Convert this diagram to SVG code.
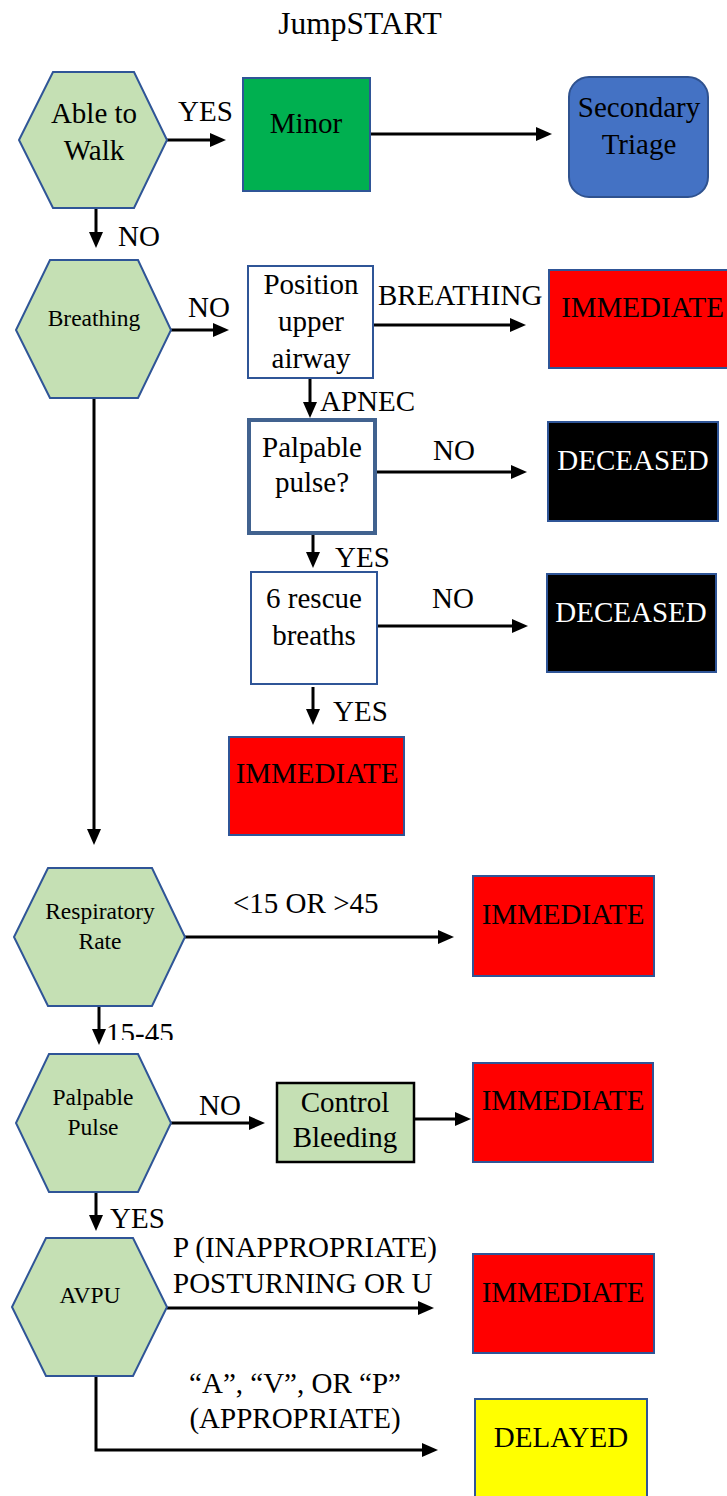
<svg xmlns="http://www.w3.org/2000/svg" width="727" height="1496" viewBox="0 0 727 1496" font-family="'Liberation Serif', 'Times New Roman', serif">
<style>
text{font-family:'Liberation Serif','Times New Roman',serif;fill:#000;}
.t{font-family:'Liberation Serif','Times New Roman',serif;font-size:29px;}
.s{font-family:'Liberation Serif','Times New Roman',serif;font-size:23.5px;}
.c{text-anchor:middle;}
.w{fill:#fff;}
.hex{fill:#C5E0B4;stroke:#2F5597;stroke-width:2;}
.box{fill:#fff;stroke:#2F5597;stroke-width:2;}
.red{fill:#FF0000;stroke:#2F5597;stroke-width:2;}
.blk{fill:#000;stroke:#2F5597;stroke-width:2;}
.ln{fill:none;stroke:#000;stroke-width:3;}
.ar{marker-end:url(#ah);}
</style>
<defs>
<marker id="ah" markerUnits="userSpaceOnUse" markerWidth="17" markerHeight="15" refX="2" refY="7" orient="auto">
<path d="M0,0 L16,7 L0,14 z" fill="#000"/>
</marker>
<clipPath id="clip1545"><rect x="100" y="1000" width="100" height="40"/></clipPath>
</defs>
<text class="t c" x="360" y="34" style="font-size:31.5px">JumpSTART</text>

<g id="connectors">
<line class="ln ar" x1="167" y1="140" x2="212" y2="140"/>
<line class="ln ar" x1="370" y1="134" x2="538" y2="134"/>
<line class="ln ar" x1="96" y1="208" x2="96" y2="234"/>
<line class="ln ar" x1="171" y1="330" x2="215" y2="330"/>
<line class="ln ar" x1="373" y1="325" x2="512" y2="325"/>
<line class="ln ar" x1="310" y1="378" x2="310" y2="404"/>
<line class="ln ar" x1="375" y1="472" x2="513" y2="472"/>
<line class="ln ar" x1="313" y1="533" x2="313" y2="554"/>
<line class="ln ar" x1="377" y1="626" x2="514" y2="626"/>
<line class="ln ar" x1="313" y1="687" x2="313" y2="711"/>
<line class="ln ar" x1="94" y1="398" x2="94" y2="831"/>
<line class="ln ar" x1="185" y1="937" x2="440" y2="937"/>
<line class="ln ar" x1="99" y1="1006" x2="99" y2="1031"/>
<line class="ln ar" x1="171" y1="1123" x2="251" y2="1123"/>
<line class="ln ar" x1="414" y1="1119" x2="457" y2="1119"/>
<line class="ln ar" x1="96" y1="1192" x2="96" y2="1217"/>
<line class="ln ar" x1="167" y1="1308" x2="420" y2="1308"/>
<polyline class="ln ar" points="96,1377 96,1450 424,1450"/>
<text class="t" x="178" y="121">YES</text>
<text class="t" x="118" y="246">NO</text>
<text class="t" x="188" y="317">NO</text>
<text class="t" x="378" y="305">BREATHING</text>
<text class="t" x="320" y="411">APNEC</text>
<text class="t" x="433" y="460">NO</text>
<text class="t" x="335" y="567">YES</text>
<text class="t" x="432" y="608">NO</text>
<text class="t" x="333" y="721">YES</text>
<text class="t" x="233" y="913">&lt;15 OR &gt;45</text>
<text class="t" x="106" y="1043" clip-path="url(#clip1545)">15-45</text>
<text class="t" x="199" y="1115">NO</text>
<text class="t" x="110" y="1228">YES</text>
<text class="t" x="173" y="1257">P (INAPPROPRIATE)</text>
<text class="t" x="173" y="1293">POSTURNING OR U</text>
<text class="t c" x="295" y="1393">“A”, “V”, OR “P”</text>
<text class="t c" x="295" y="1428">(APPROPRIATE)</text>
</g>

<g id="able-to-walk">
<polygon class="hex" points="53,72 134,72 167,140 134,208 53,208 19,140"/>
<text class="t c" x="94" y="123">Able to</text>
<text class="t c" x="94" y="160">Walk</text>
</g>
<g id="minor">
<rect x="243" y="78" width="127" height="113" fill="#00B050" stroke="#2F5597" stroke-width="2"/>
<text class="t c" x="306" y="133">Minor</text>
</g>
<g id="secondary-triage">
<rect x="569" y="77" width="139" height="120" rx="20" ry="20" fill="#4472C4" stroke="#2F528F" stroke-width="2"/>
<text class="t c" x="639" y="117">Secondary</text>
<text class="t c" x="639" y="154">Triage</text>
</g>
<g id="breathing">
<polygon class="hex" points="50,260 138,260 171,330 138,398 50,398 16,330"/>
<text class="s c" x="94" y="326">Breathing</text>
</g>
<g id="position-airway">
<rect class="box" x="248" y="266" width="125" height="112"/>
<text class="t c" x="311" y="294">Position</text>
<text class="t c" x="311" y="331">upper</text>
<text class="t c" x="311" y="368">airway</text>
</g>
<g id="immediate-1">
<rect class="red" x="549" y="270" width="187" height="98"/>
<text class="t c" x="642.5" y="317">IMMEDIATE</text>
</g>
<g id="palpable-pulse-q">
<rect x="249" y="420" width="126" height="113" fill="#fff" stroke="#41628F" stroke-width="4"/>
<text class="t c" x="312" y="457">Palpable</text>
<text class="t c" x="312" y="492">pulse?</text>
</g>
<g id="deceased-1">
<rect class="blk" x="548" y="422" width="170" height="99"/>
<text class="t c w" x="633" y="470">DECEASED</text>
</g>
<g id="rescue-breaths">
<rect class="box" x="251" y="572" width="126" height="112"/>
<text class="t c" x="314" y="608">6 rescue</text>
<text class="t c" x="314" y="645">breaths</text>
</g>
<g id="deceased-2">
<rect class="blk" x="547" y="574" width="169" height="98"/>
<text class="t c w" x="631" y="622">DECEASED</text>
</g>
<g id="immediate-2">
<rect class="red" x="229" y="737" width="175" height="98"/>
<text class="t c" x="317" y="783">IMMEDIATE</text>
</g>
<g id="respiratory-rate">
<polygon class="hex" points="48,868 152,868 185,937 152,1006 48,1006 14,937"/>
<text class="s c" x="100" y="919">Respiratory</text>
<text class="s c" x="100" y="949">Rate</text>
</g>
<g id="immediate-3">
<rect class="red" x="473" y="876" width="181" height="100"/>
<text class="t c" x="563" y="924">IMMEDIATE</text>
</g>
<g id="palpable-pulse">
<polygon class="hex" points="49,1054 138,1054 171,1123 138,1192 49,1192 16,1123"/>
<text class="s c" x="93" y="1105">Palpable</text>
<text class="s c" x="93" y="1135">Pulse</text>
</g>
<g id="control-bleeding">
<rect x="277" y="1083" width="137" height="79" fill="#C5E0B4" stroke="#000" stroke-width="2.5"/>
<text class="t c" x="345" y="1112">Control</text>
<text class="t c" x="345" y="1147">Bleeding</text>
</g>
<g id="immediate-4">
<rect class="red" x="473" y="1063" width="180" height="99"/>
<text class="t c" x="563" y="1110">IMMEDIATE</text>
</g>
<g id="avpu">
<polygon class="hex" points="46,1238 133,1238 167,1307 133,1376 46,1376 12,1307"/>
<text class="s c" x="90" y="1303">AVPU</text>
</g>
<g id="immediate-5">
<rect class="red" x="473" y="1254" width="181" height="99"/>
<text class="t c" x="563" y="1302">IMMEDIATE</text>
</g>
<g id="delayed">
<rect x="475" y="1399" width="172" height="111" fill="#FFFF00" stroke="#2F5597" stroke-width="2"/>
<text class="t c" x="561" y="1447">DELAYED</text>
</g>
</svg>
